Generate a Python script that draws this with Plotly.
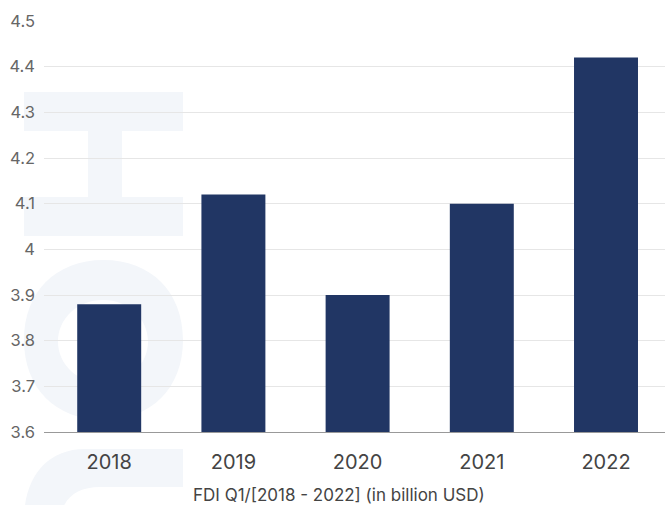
import plotly.graph_objects as go

# FDI inflow for the first quarter of each year (billion USD)
years = ["2018", "2019", "2020", "2021", "2022"]
fdi_q1 = [3.88, 4.12, 3.90, 4.10, 4.42]
y_ticks = [3.6, 3.7, 3.8, 3.9, 4.0, 4.1, 4.2, 4.3, 4.4, 4.5]
y_tick_text = ["3.6", "3.7", "3.8", "3.9", "4", "4.1", "4.2", "4.3", "4.4", "4.5"]
axis_title = "FDI Q1/[2018 - 2022] (in billion USD)"

W, H = 665, 505
ML, MR, MT, MB = 44, 0, 21, 73
PW, PH = W - ML - MR, H - MT - MB

BAR = "#213664"
MARK = "#f3f6fa"


def px(x):
    return (x - ML) / PW


def py(y):
    return (H - MB - y) / PH


def path(points):
    out = []
    for cmd, *xy in points:
        if xy:
            vals = []
            for i in range(0, len(xy), 2):
                vals.append(f"{px(xy[i]):.5f},{py(xy[i + 1]):.5f}")
            out.append(cmd + " " + " ".join(vals))
        else:
            out.append(cmd)
    return " ".join(out)


def squircle(x0, y0, x1, y1, k=0.2):
    cx, cy = (x0 + x1) / 2, (y0 + y1) / 2
    return [
        ("M", cx, y0),
        ("C", x1 - (x1 - x0) * k, y0, x1, y0 + (y1 - y0) * k, x1, cy),
        ("C", x1, y1 - (y1 - y0) * k, x1 - (x1 - x0) * k, y1, cx, y1),
        ("C", x0 + (x1 - x0) * k, y1, x0, y1 - (y1 - y0) * k, x0, cy),
        ("C", x0, y0 + (y1 - y0) * k, x0 + (x1 - x0) * k, y0, cx, y0),
        ("Z",),
    ]


fig = go.Figure(
    go.Bar(
        x=years,
        y=fdi_q1,
        marker=dict(color=BAR, line=dict(width=0)),
        width=0.515,
        hoverinfo="x+y",
    )
)

shapes = []
# faint background emblem
i_shape = [
    ("M", 24, 92), ("L", 183, 92), ("L", 183, 131), ("L", 122, 131), ("L", 122, 197),
    ("L", 183, 197), ("L", 183, 236), ("L", 24, 236), ("L", 24, 197), ("L", 88, 197),
    ("L", 88, 131), ("L", 24, 131), ("Z",),
]
shapes.append(dict(type="path", xref="paper", yref="paper", path=path(i_shape),
                   fillcolor=MARK, line=dict(width=0), layer="below"))
o_shape = squircle(24, 260, 183, 420, 0.2) + squircle(58, 300, 148, 383, 0.22)
shapes.append(dict(type="path", xref="paper", yref="paper", path=path(o_shape),
                   fillcolor=MARK, line=dict(width=0), layer="below", fillrule="evenodd"))
c_shape = [
    ("M", 183, 449), ("L", 85, 449), ("C", 45, 449, 24, 480, 24, 520), ("L", 24, 560),
    ("L", 60, 560), ("L", 60, 525), ("C", 60, 500, 75, 487, 100, 487), ("L", 183, 487), ("Z",),
]
shapes.append(dict(type="path", xref="paper", yref="paper", path=path(c_shape),
                   fillcolor=MARK, line=dict(width=0), layer="below"))

fig.update_layout(
    width=W,
    height=H,
    margin=dict(l=ML, r=MR, t=MT, b=MB, pad=0),
    paper_bgcolor="white",
    plot_bgcolor="rgba(0,0,0,0)",
    font=dict(family="Inter, Roboto, sans-serif", color="#555"),
    showlegend=False,
    bargap=0.485,
    shapes=shapes,
    annotations=[
        dict(text=axis_title, x=px(339), y=py(495), xref="paper", yref="paper",
             xanchor="center", yanchor="middle", showarrow=False,
             font=dict(size=17, color="#444"))
    ],
    xaxis=dict(
        type="category",
        range=[-0.525, 4.475],
        showgrid=False,
        showline=True,
        linecolor="#999",
        linewidth=1,
        ticks="",
        ticklabelstandoff=12,
        tickfont=dict(size=20, color="#444"),
        fixedrange=True,
    ),
    yaxis=dict(
        range=[3.6, 4.5],
        tickvals=y_ticks,
        ticktext=y_tick_text,
        showgrid=True,
        gridcolor="#e6e6e6",
        gridwidth=1,
        zeroline=False,
        showline=False,
        ticks="",
        ticklabelstandoff=8,
        tickfont=dict(size=16.5, color="#666"),
        fixedrange=True,
    ),
)

fig.write_html("out.html", config={"displayModeBar": False})
